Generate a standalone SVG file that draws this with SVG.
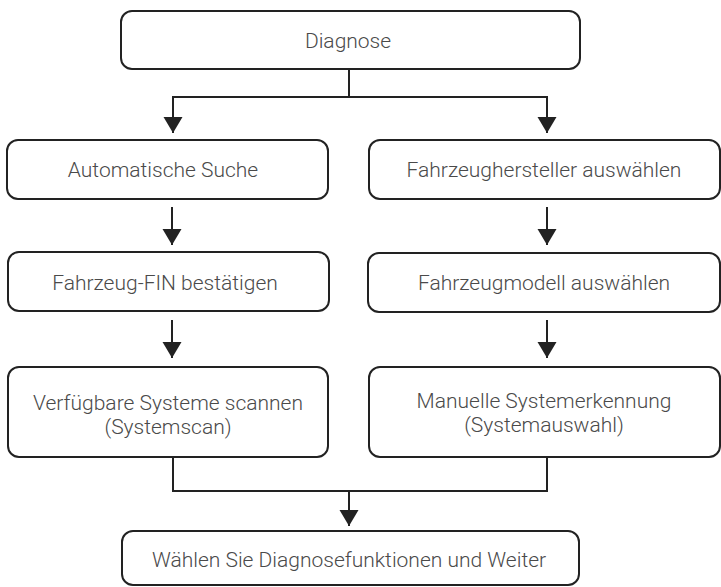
<svg xmlns="http://www.w3.org/2000/svg" width="721" height="587" viewBox="0 0 721 587">
<defs>
<style>
.box{fill:#fff;stroke:#222;stroke-width:2}
.lbl{font-family:Roboto,"Liberation Sans",sans-serif;font-size:21px;font-weight:300;fill:#4a4a4a;text-anchor:middle}
.con{fill:none;stroke:#222;stroke-width:2}
</style>
<marker id="ah" markerUnits="userSpaceOnUse" markerWidth="17" markerHeight="20" viewBox="0 0 17 20" refX="16" refY="10" orient="auto">
<path d="M0,0.5 L16,10 L0,19.5 z" fill="#222"/>
</marker>
</defs>
<g id="n-diagnose"><rect class="box" x="121" y="11" width="459" height="58" rx="11"/><text class="lbl" x="348" y="48">Diagnose</text></g>
<g id="n-auto"><rect class="box" x="7" y="140" width="321" height="59" rx="11"/><text class="lbl" x="163" y="177">Automatische Suche</text></g>
<g id="n-hersteller"><rect class="box" x="369" y="140" width="351" height="59" rx="11"/><text class="lbl" x="544" y="177">Fahrzeughersteller auswählen</text></g>
<g id="n-fin"><rect class="box" x="8" y="252" width="321" height="59" rx="11"/><text class="lbl" x="165" y="290">Fahrzeug-FIN bestätigen</text></g>
<g id="n-modell"><rect class="box" x="368" y="253" width="352" height="59" rx="11"/><text class="lbl" x="544" y="290">Fahrzeugmodell auswählen</text></g>
<g id="n-scan"><rect class="box" x="8" y="367" width="320" height="90" rx="11"/><text class="lbl" x="168" y="410">Verfügbare Systeme scannen</text><text class="lbl" x="168" y="434">(Systemscan)</text></g>
<g id="n-manuell"><rect class="box" x="369" y="367" width="351" height="90" rx="11"/><text class="lbl" x="544" y="408">Manuelle Systemerkennung</text><text class="lbl" x="544" y="432">(Systemauswahl)</text></g>
<g id="n-weiter"><rect class="box" x="122" y="531" width="457" height="54" rx="11"/><text class="lbl" x="349" y="567">Wählen Sie Diagnosefunktionen und Weiter</text></g>
<g id="connectors">
<path class="con" d="M349,69 V97"/>
<path class="con" d="M349,97 H173 V133" marker-end="url(#ah)"/>
<path class="con" d="M349,97 H547 V133" marker-end="url(#ah)"/>
<path class="con" d="M172,207 V245" marker-end="url(#ah)"/>
<path class="con" d="M547,207 V245" marker-end="url(#ah)"/>
<path class="con" d="M172,320 V358" marker-end="url(#ah)"/>
<path class="con" d="M547,320 V358" marker-end="url(#ah)"/>
<path class="con" d="M173,457 V491 H547 V457"/>
<path class="con" d="M349,491 V526" marker-end="url(#ah)"/>
</g>
</svg>
